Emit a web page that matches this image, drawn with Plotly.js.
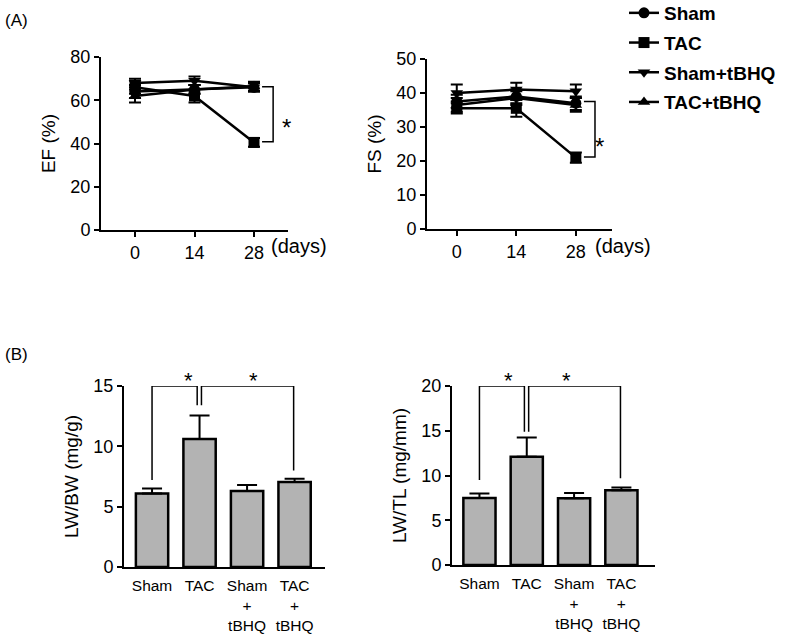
<!DOCTYPE html>
<html><head><meta charset="utf-8">
<script src="https://cdn.plot.ly/plotly-3.0.1.min.js"></script>
<style>html,body{margin:0;padding:0;background:#fff}#chart{width:787px;height:635px}</style>
</head><body><div id="chart"></div>
<script>
const days = [0, 14, 28];
const groups = ['Sham', 'TAC', 'Sham+tBHQ', 'TAC+tBHQ'];
const symbols = ['circle', 'square', 'triangle-down', 'triangle-up'];
// EF (%)
const efSham = [64, 65, 66];
const efTAC = [66, 62, 40.5];
const efShamT = [68, 69, 66];
const efTACT = [62, 65, 66.5];
const efShamErr = [3, 2, 2];
const efTACErr = [3, 3, 2];
const efShamTErr = [2, 2, 2];
const efTACTErr = [3, 2, 2];
// FS (%)
const fsSham = [37.5, 39, 37];
const fsTAC = [35.5, 35.5, 21];
const fsShamT = [40, 41, 40.5];
const fsTACT = [36.5, 38.5, 36.5];
const fsShamErr = [2, 2, 2];
const fsTACErr = [1.5, 2.5, 1.5];
const fsShamTErr = [2.5, 2, 2];
const fsTACTErr = [2, 2, 2];
// Bars
const barCats = ['Sham', 'TAC', 'Sham<br>+<br>tBHQ', 'TAC<br>+<br>tBHQ'];
const lwbw = [6.1, 10.6, 6.3, 7.05];
const lwbwErr = [0.4, 1.95, 0.5, 0.27];
const lwtl = [7.5, 12.1, 7.45, 8.35];
const lwtlErr = [0.5, 2.15, 0.6, 0.3];

const FONT = 'Liberation Sans, Arial, Helvetica, sans-serif';
const efSeries = [efSham, efTAC, efShamT, efTACT];
const efErrs = [efShamErr, efTACErr, efShamTErr, efTACTErr];
const fsSeries = [fsSham, fsTAC, fsShamT, fsTACT];
const fsErrs = [fsShamErr, fsTACErr, fsShamTErr, fsTACTErr];

const traces = [];
groups.forEach((g, i) => {
  traces.push({
    type: 'scatter', mode: 'lines+markers', x: days, y: efSeries[i], name: g,
    xaxis: 'x', yaxis: 'y', showlegend: true, legendgroup: g,
    line: {color: '#000', width: 2.5}, marker: {symbol: symbols[i], size: 11, color: '#000'},
    error_y: {type: 'data', array: efErrs[i], visible: true, color: '#000', thickness: 2, width: 6},
    cliponaxis: false
  });
});
groups.forEach((g, i) => {
  traces.push({
    type: 'scatter', mode: 'lines+markers', x: days, y: fsSeries[i], name: g,
    xaxis: 'x2', yaxis: 'y2', showlegend: false, legendgroup: g,
    line: {color: '#000', width: 2.5}, marker: {symbol: symbols[i], size: 11, color: '#000'},
    error_y: {type: 'data', array: fsErrs[i], visible: true, color: '#000', thickness: 2, width: 6},
    cliponaxis: false
  });
});
traces.push({
  type: 'bar', x: barCats, y: lwbw, xaxis: 'x3', yaxis: 'y3', showlegend: false, width: 0.68,
  marker: {color: '#b3b3b3', line: {color: '#000', width: 2.5}},
  error_y: {type: 'data', array: lwbwErr, arrayminus: [0, 0, 0, 0], symmetric: false, visible: true, color: '#000', thickness: 2, width: 10}
});
traces.push({
  type: 'bar', x: barCats, y: lwtl, xaxis: 'x4', yaxis: 'y4', showlegend: false, width: 0.68,
  marker: {color: '#b3b3b3', line: {color: '#000', width: 2.5}},
  error_y: {type: 'data', array: lwtlErr, arrayminus: [0, 0, 0, 0], symmetric: false, visible: true, color: '#000', thickness: 2, width: 10}
});

const H = 635, W = 787;
const px = v => v / W;
const py = v => (H - v) / H;

const axBase = {
  showline: true, linecolor: '#000', linewidth: 2, ticks: 'outside', ticklen: 5, tickwidth: 2, tickcolor: '#000',
  showgrid: false, zeroline: false, automargin: false, fixedrange: true,
  tickfont: {family: FONT, size: 18, color: '#000'}
};

function lineX(dom, anchor, range) {
  return Object.assign({}, axBase, {domain: dom, anchor: anchor, range: range, tickvals: days, ticktext: days.map(String)});
}
function lineY(dom, anchor, range, dtick, title) {
  return Object.assign({}, axBase, {domain: dom, anchor: anchor, range: range, dtick: dtick,
    title: {text: title, font: {family: FONT, size: 19, color: '#000'}, standoff: 10}});
}

const layout = {
  width: W, height: H, margin: {l: 0, r: 0, t: 0, b: 0, autoexpand: false},
  paper_bgcolor: '#fff', plot_bgcolor: 'rgba(0,0,0,0)',
  font: {family: FONT, color: '#000'},
  showlegend: true,
  legend: {x: px(624), y: py(-6), xanchor: 'left', yanchor: 'top', bgcolor: 'rgba(0,0,0,0)',
    font: {family: FONT, size: 19, color: '#000', weight: 'bold'}, tracegroupgap: 2, itemwidth: 30},
  xaxis: lineX([px(101), px(288)], 'y', [-8, 36]),
  yaxis: lineY([py(230), py(57)], 'x', [0, 80], 20, 'EF (%)'),
  xaxis2: lineX([px(427), px(612)], 'y2', [-7, 36.5]),
  yaxis2: lineY([py(229), py(59)], 'x2', [0, 50], 10, 'FS (%)'),
  xaxis3: Object.assign({}, axBase, {domain: [px(124), px(325)], anchor: 'y3', type: 'category', range: [-0.59, 3.64], ticks: '', ticklabelstandoff: 3, tickfont: {family: FONT, size: 15.5, color: '#000'}}),
  yaxis3: lineY([py(567), py(386)], 'x3', [0, 15], 5, 'LW/BW (mg/g)'),
  xaxis4: Object.assign({}, axBase, {domain: [px(452), px(655)], anchor: 'y4', type: 'category', range: [-0.58, 3.71], ticks: '', ticklabelstandoff: 3, tickfont: {family: FONT, size: 15.5, color: '#000'}}),
  yaxis4: lineY([py(565), py(386)], 'x4', [0, 20], 5, 'LW/TL (mg/mm)'),
  shapes: [
    {type: 'path', xref: 'x', yref: 'y', path: 'M 29.9 66.2 L 32.5 66.2 L 32.5 40.8 L 29.9 40.8', line: {color: '#000', width: 1.5}},
    {type: 'path', xref: 'x2', yref: 'y2', path: 'M 29.9 37.5 L 32.5 37.5 L 32.5 21.2 L 29.9 21.2', line: {color: '#000', width: 1.5}},
    {type: 'path', xref: 'x3', yref: 'y3', path: 'M 0 7.2 L 0 15 L 0.95 15 L 0.95 13.4', line: {color: '#000', width: 1.5}},
    {type: 'path', xref: 'x3', yref: 'y3', path: 'M 1.04 13.4 L 1.04 15 L 2.98 15 L 2.98 8.0', line: {color: '#000', width: 1.5}},
    {type: 'path', xref: 'x4', yref: 'y4', path: 'M 0 9.5 L 0 20 L 0.95 20 L 0.95 14.9', line: {color: '#000', width: 1.5}},
    {type: 'path', xref: 'x4', yref: 'y4', path: 'M 1.04 14.9 L 1.04 20 L 2.98 20 L 2.98 9.7', line: {color: '#000', width: 1.5}}
  ],
  annotations: [
    {text: '(A)', xref: 'paper', yref: 'paper', x: px(3), y: py(20), xanchor: 'left', yanchor: 'middle', showarrow: false, font: {family: FONT, size: 17, color: '#000'}},
    {text: '(B)', xref: 'paper', yref: 'paper', x: px(3), y: py(354), xanchor: 'left', yanchor: 'middle', showarrow: false, font: {family: FONT, size: 17, color: '#000'}},
    {text: '(days)', xref: 'paper', yref: 'paper', x: px(269), y: py(246), xanchor: 'left', yanchor: 'middle', showarrow: false, font: {family: FONT, size: 20, color: '#000'}},
    {text: '(days)', xref: 'paper', yref: 'paper', x: px(593), y: py(246), xanchor: 'left', yanchor: 'middle', showarrow: false, font: {family: FONT, size: 20, color: '#000'}},
    {text: '*', xref: 'paper', yref: 'paper', x: px(286), y: py(112), showarrow: false, font: {family: FONT, size: 24, color: '#000'}},
    {text: '*', xref: 'paper', yref: 'paper', x: px(606), y: py(131), showarrow: false, font: {family: FONT, size: 24, color: '#000'}},
    {text: '*', xref: 'paper', yref: 'paper', x: px(182), y: py(380), showarrow: false, font: {family: FONT, size: 22, color: '#000'}},
    {text: '*', xref: 'paper', yref: 'paper', x: px(247), y: py(380), showarrow: false, font: {family: FONT, size: 22, color: '#000'}},
    {text: '*', xref: 'paper', yref: 'paper', x: px(508), y: py(380), showarrow: false, font: {family: FONT, size: 22, color: '#000'}},
    {text: '*', xref: 'paper', yref: 'paper', x: px(573), y: py(380), showarrow: false, font: {family: FONT, size: 22, color: '#000'}}
  ]
};

Plotly.newPlot('chart', traces, layout, {displayModeBar: false, staticPlot: true});
</script></body></html>
